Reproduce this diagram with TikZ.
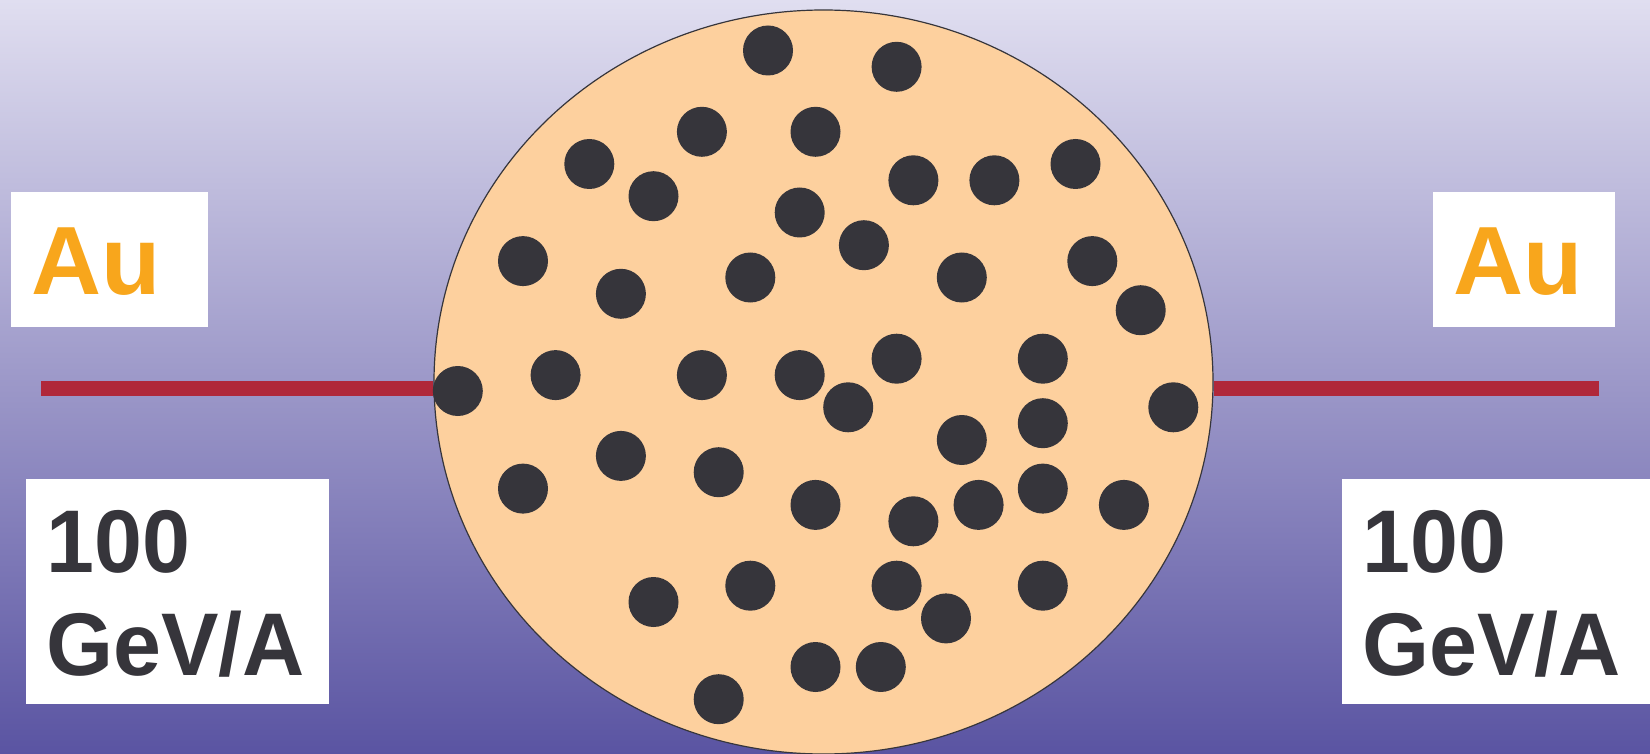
\documentclass[tikz,border=0pt]{standalone}
\usepackage{fontspec}
\setmainfont{Liberation Sans}
\newfontfamily\gevfont{Liberation Sans}[FakeStretch=0.968]
\usepackage{xcolor}
\usetikzlibrary{shapes.geometric, positioning}
\definecolor{skytop}{RGB}{224,222,240}
\definecolor{skymid}{RGB}{158,152,202}
\definecolor{skybot}{RGB}{90,84,162}
\definecolor{peach}{RGB}{253,208,158}
\definecolor{nucdark}{RGB}{54,53,59}
\definecolor{beamred}{RGB}{176,40,58}
\definecolor{goldtext}{RGB}{248,166,28}
\tikzset{
  nucleon/.style={circle,fill=nucdark,inner sep=0pt,minimum size=50pt},
  nucleus/.style={ellipse,draw=nucdark,line width=1.2pt,fill=peach,inner sep=0pt},
  tagbox/.style={fill=white,inner ysep=0pt,align=left,anchor=north west,font=\bfseries},
  autag/.style={tagbox,text=goldtext,inner xsep=20pt,minimum height=135pt,
    text height=70pt,text depth=0pt,font=\bfseries\fontsize{97}{97}\selectfont},
  gevtag/.style={tagbox,text=nucdark,inner xsep=20pt,minimum height=225pt,
    text height=64pt,text depth=101.8pt,font=\gevfont\bfseries\fontsize{89}{102.5}\selectfont},
  beam/.style={line width=15.5pt,color=beamred}
}

\begin{document}
\begin{tikzpicture}[x=1pt,y=-1pt]
  \useasboundingbox (0,0) rectangle (1650,754);
  \shade[top color=skytop, middle color=skymid, bottom color=skybot] (0,0) rectangle (1650,754);

  % gold nucleus, seen face on
  \node[nucleus, minimum width=779pt, minimum height=744pt] (gold) at (823.5,382) {};
  \coordinate (beamL) at (41,388.5);
  \coordinate (beamR) at (1599,388.5);
  \draw[beam] (beamL) -- (beamL -| gold.west);
  \draw[beam] (beamR -| gold.east) -- (beamR);

  \foreach \px/\py [count=\k] in {
      768/50.5, 896.6/66.8, 701.9/131.8, 815.5/131.8, 589.3/164, 653.5/196.2,
      913.4/180.3, 994.4/180.3, 1075.5/164, 799.7/212.5, 863.9/245.2,
      523/261.1, 620.9/293.8, 750.3/277.5, 961.8/277.5, 1092.3/261.1,
      1140.7/310.2, 555.6/375.1, 701.9/375.1, 799.7/375.1, 896.6/358.7,
      1042.8/358.7, 457.8/391, 848.2/407.3, 961.8/440, 1042.8/423.2,
      1173.3/407.3, 620.9/455.9, 718.7/472.2, 523/488.6, 815.5/504.9,
      913.4/521.3, 978.6/504.9, 1042.8/488.6, 1123.9/504.9, 653.5/602,
      750.3/585.7, 896.6/585.7, 1042.8/585.7, 946/618.4, 815.5/667,
      880.8/667, 718.7/699.2}
    \node[nucleon] (n\k) at (\px,\py) {};

  % labels left and right
  \node[autag, text width=157pt] (auL) at (11,192) {Au};
  \node[autag, text width=142pt] (auR) at (1433,192) {Au};
  \node[gevtag, text width=263pt] (energyL) at (26,479) {100\\GeV/A};
  \node[gevtag, text width=288pt] (energyR) at (1342,479) {100\\GeV/A};
\end{tikzpicture}
\end{document}
